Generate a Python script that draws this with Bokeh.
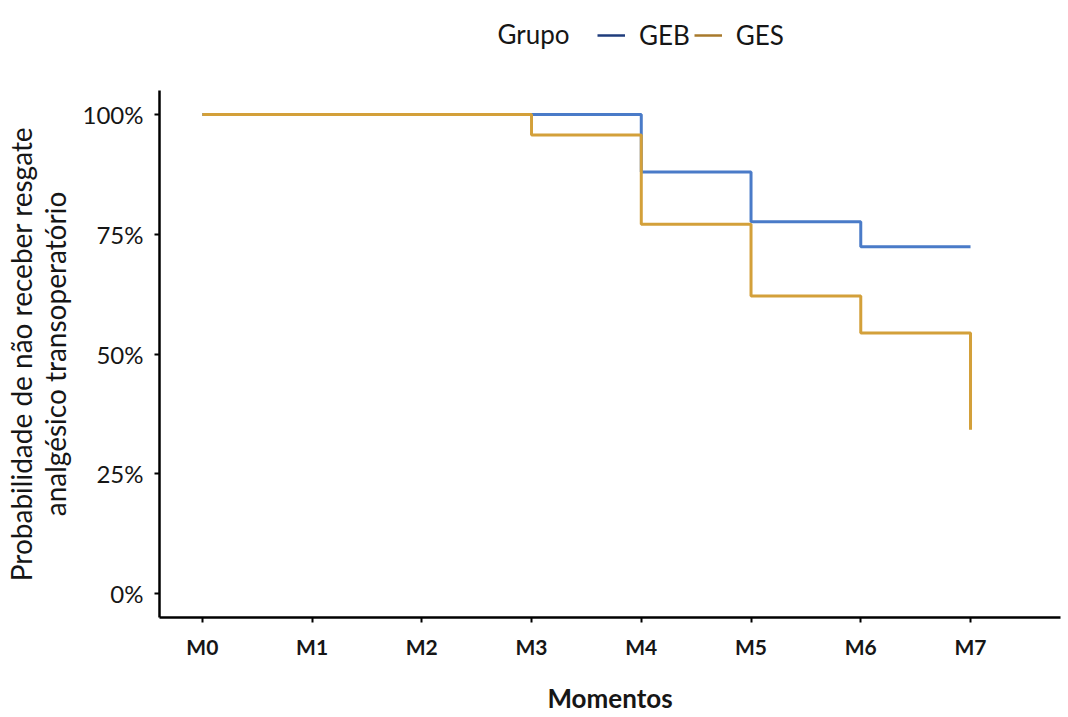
from bokeh.plotting import figure
from bokeh.models import Range1d, FixedTicker, Legend, LegendItem, Label
from bokeh.layouts import column
from bokeh.embed import file_html
from bokeh.resources import INLINE

# ---- data ----
moments = ["M0", "M1", "M2", "M3", "M4", "M5", "M6", "M7"]
moment_idx = [0, 1, 2, 3, 4, 5, 6, 7]
y_ticks = [0, 25, 50, 75, 100]
y_tick_labels = ["0%", "25%", "50%", "75%", "100%"]

geb_time = [0, 4, 5, 6, 7]
geb_surv = [100, 88.0, 77.6, 72.4, 72.4]

ges_time = [0, 3, 4, 5, 6, 7]
ges_surv = [100, 95.7, 77.1, 62.1, 54.4, 34.2]

group_names = ["GEB", "GES"]
group_colors = ["#4A7BC8", "#D3A03A"]
legend_colors = ["#1F3C7C", "#A87A2C"]
legend_title = "Grupo"
x_title = "Momentos"
y_title = "Probabilidade de não receber resgate\nanalgésico transoperatório"

FONT = "Lato"
TXT = "#161616"
W, H, TOP = 1068, 717, 90
LEFT, RIGHT = 159, 8

# ---- legend strip (top); its x range maps 1:1 onto page pixels ----
top = figure(width=W, height=TOP, output_backend="svg", toolbar_location=None,
             x_range=Range1d(LEFT, W - RIGHT), y_range=Range1d(0, TOP),
             x_axis_location=None, y_axis_location=None,
             min_border_left=LEFT, min_border_right=RIGHT, min_border_top=0, min_border_bottom=0,
             outline_line_color=None)
top.xgrid.visible = False
top.ygrid.visible = False
# key renderers (their data lies outside this strip's range, only their legend keys show)
k1 = top.line(geb_time, geb_surv, line_color=legend_colors[0], line_width=2.5)
k2 = top.line(ges_time, ges_surv, line_color=legend_colors[1], line_width=2.5)
top.add_layout(Label(x=497, y=TOP - 33, text=legend_title, text_font=FONT, text_font_size="26px",
                     text_color=TXT, text_align="left", text_baseline="middle"))
legend = Legend(items=[LegendItem(label=group_names[0], renderers=[k1]),
                       LegendItem(label=group_names[1], renderers=[k2])],
                orientation="horizontal", location=(597 - LEFT, TOP - 35 - 16))
legend.label_text_font = FONT
legend.label_text_font_size = "26px"
legend.label_text_color = TXT
legend.label_standoff = 14
legend.glyph_width = 28
legend.glyph_height = 32
legend.label_height = 32
legend.spacing = 4
legend.margin = 0
legend.padding = 0
legend.border_line_color = None
legend.background_fill_alpha = 0
top.add_layout(legend, "center")

# ---- main chart ----
p = figure(width=W, height=H - TOP, output_backend="svg", toolbar_location=None,
           x_range=Range1d(-0.39, 7.82), y_range=Range1d(-5, 105),
           min_border_left=LEFT, min_border_right=RIGHT, min_border_top=0, min_border_bottom=100)
p.outline_line_color = None
p.xgrid.visible = False
p.ygrid.visible = False

p.step(geb_time, geb_surv, mode="after", line_color=group_colors[0], line_width=3)
p.step(ges_time, ges_surv, mode="after", line_color=group_colors[1], line_width=3)

for ax in (p.xaxis[0], p.yaxis[0]):
    ax.axis_line_color = "black"
    ax.axis_line_width = 2.5
    ax.major_tick_line_color = "black"
    ax.major_tick_line_width = 2
    ax.major_tick_out = 5
    ax.major_tick_in = 0
    ax.minor_tick_line_color = None
    ax.major_label_text_font = FONT
    ax.major_label_text_color = TXT
    ax.axis_label_text_font = FONT
    ax.axis_label_text_color = TXT

p.xaxis.ticker = FixedTicker(ticks=moment_idx)
p.xaxis.major_label_overrides = {i: m for i, m in zip(moment_idx, moments)}
p.xaxis.major_label_text_font_size = "21px"
p.xaxis.major_label_text_font_style = "bold"
p.xaxis.major_label_standoff = 11
p.xaxis.axis_label = x_title
p.xaxis.axis_label_text_font_size = "26px"
p.xaxis.axis_label_text_font_style = "bold"
p.xaxis.axis_label_text_line_height = 0.8
p.xaxis.axis_label_standoff = 20

p.yaxis.ticker = FixedTicker(ticks=y_ticks)
p.yaxis.major_label_overrides = {t: l for t, l in zip(y_ticks, y_tick_labels)}
p.yaxis.major_label_text_font_size = "24px"
p.yaxis.major_label_standoff = 11
p.yaxis.axis_label = y_title
p.yaxis.axis_label_text_font_size = "28px"
p.yaxis.axis_label_text_font_style = "normal"
p.yaxis.axis_label_text_line_height = 1.0
p.yaxis.axis_label_standoff = 8

open("out.html", "w").write(file_html(column(top, p), INLINE))
